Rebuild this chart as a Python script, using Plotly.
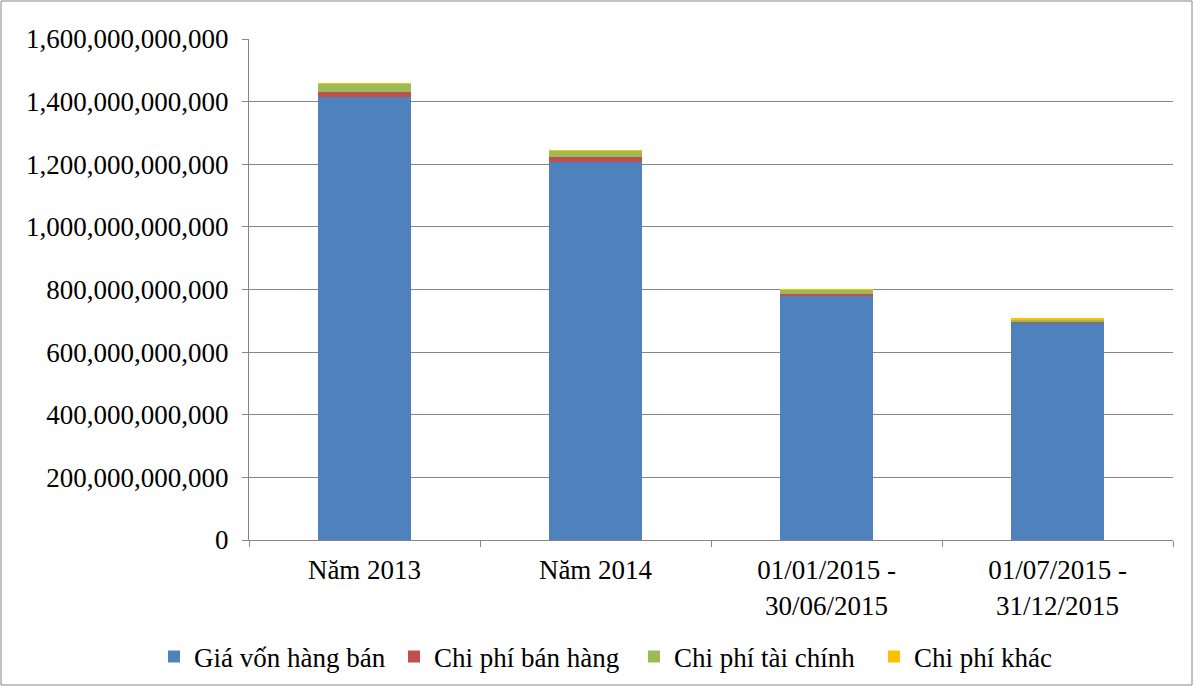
import plotly.graph_objects as go

categories = ["Năm 2013", "Năm 2014", "01/01/2015 -<br>30/06/2015", "01/07/2015 -<br>31/12/2015"]
gia_von = [1415e9, 1208e9, 780e9, 692e9]
chi_phi_ban_hang = [16e9, 15e9, 6e9, 7e9]
chi_phi_tai_chinh = [26e9, 22e9, 15e9, 4e9]
chi_phi_khac = [0.8e9, 0.4e9, 0.4e9, 4e9]

series = [
    ("Giá vốn hàng bán", gia_von, "#4F81BD"),
    ("Chi phí bán hàng", chi_phi_ban_hang, "#C0504D"),
    ("Chi phí tài chính", chi_phi_tai_chinh, "#9BBB59"),
    ("Chi phí khác", chi_phi_khac, "#FFC000"),
]

W, H = 1193, 686
ml, mr, mt, mb = 249, 20, 39, 146
pw, ph = W - ml - mr, H - mt - mb
FS = 27
FAM = "Liberation Serif, Times New Roman, serif"

fig = go.Figure()
for name, vals, color in series:
    fig.add_trace(go.Bar(x=categories, y=vals, name=name, marker=dict(color=color, line=dict(width=0)),
                         width=0.4))

fig.update_layout(
    barmode="stack",
    width=W, height=H,
    margin=dict(l=ml, r=mr, t=mt, b=mb, autoexpand=False),
    paper_bgcolor="white", plot_bgcolor="white",
    font=dict(family=FAM, size=FS, color="black"),
    legend=dict(orientation="h", x=(154 - ml) / pw, xanchor="left",
                y=-(657 - (mt + ph)) / ph, yanchor="middle",
                font=dict(size=FS, family=FAM),
                itemwidth=30, traceorder="normal", entrywidth=195, entrywidthmode="pixels"),
    showlegend=True,
)
fig.update_yaxes(range=[0, 1.6e12], tickvals=[i * 2e11 for i in range(9)], tickformat=",d",
                 showgrid=True, gridcolor="#868686", gridwidth=1,
                 showline=True, linecolor="#868686", linewidth=1,
                 ticks="outside", ticklen=6, tickcolor="#868686", zeroline=False,
                 ticklabelstandoff=8, automargin=False,
                 tickfont=dict(size=FS, family=FAM))
fig.update_xaxes(showline=True, linecolor="#868686", linewidth=1, ticks="outside", ticklen=6,
                 tickcolor="#868686", tickson="boundaries", automargin=False,
                 ticklabelstandoff=6,
                 tickfont=dict(size=FS, family=FAM))

fig.add_shape(type="rect", xref="paper", yref="paper",
              x0=-(ml - 1) / pw, x1=1 + (mr - 1) / pw, y0=-(mb - 1) / ph, y1=1 + (mt - 1) / ph,
              line=dict(color="#868686", width=1))

fig.write_html("out.html", config={"displayModeBar": False},
               post_script="document.body.style.margin='0';document.body.style.overflow='hidden';")
